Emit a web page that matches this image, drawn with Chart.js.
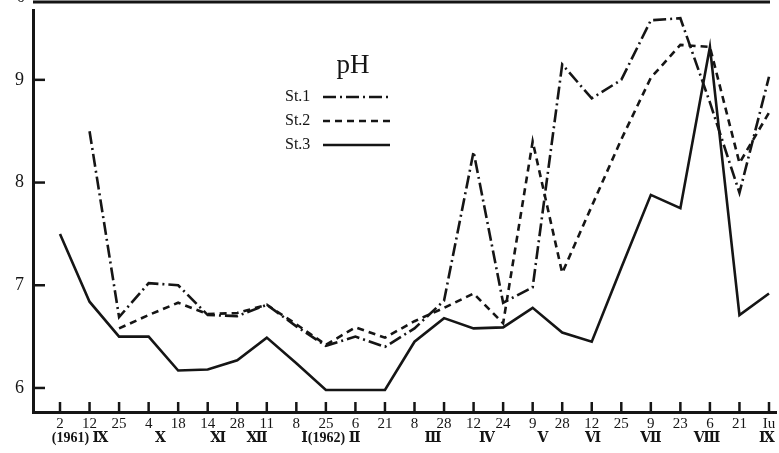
<!DOCTYPE html>
<html>
<head>
<meta charset="utf-8">
<script src="https://cdn.jsdelivr.net/npm/chart.js@4.4.1/dist/chart.umd.min.js"></script>
<style>
  html, body { margin: 0; padding: 0; background: #fff; }
  #wrap { width: 779px; height: 453px; position: relative; }
</style>
</head>
<body>
<div id="wrap"><canvas id="phChart"></canvas></div>
<script>
// sampling days (x axis, first line)
var days = ["2", "12", "25", "4", "18", "14", "28", "11", "8", "25", "6", "21", "8", "28", "12", "24", "9", "28", "12", "25", "9", "23", "6", "21", "Iu"];
// month labels (second line) and where they sit, in day-index units
var months = ["(1961) Ⅸ", "Ⅹ", "Ⅺ", "Ⅻ", "Ⅰ(1962) Ⅱ", "Ⅲ", "Ⅳ", "Ⅴ", "Ⅵ", "Ⅶ", "Ⅷ", "Ⅸ"];
var monthPos = [0.68, 3.4, 5.35, 6.67, 9.17, 12.63, 14.45, 16.35, 18.04, 20.0, 21.9, 23.93];

var st1 = [null, 8.50, 6.69, 7.02, 7.00, 6.71, 6.70, 6.81, 6.60, 6.41, 6.50, 6.40, 6.58, 6.85, 8.30, 6.83, 6.98, 9.15, 8.82, 9.00, 9.58, 9.60, 8.78, 7.90, 9.03];
var st2 = [null, null, 6.58, 6.71, 6.83, 6.72, 6.73, 6.81, 6.62, 6.42, 6.59, 6.49, 6.65, 6.78, 6.92, 6.63, 8.40, 7.12, 7.77, 8.42, 9.02, 9.34, 9.32, 8.19, 8.68];
var st3 = [7.50, 6.84, 6.50, 6.50, 6.17, 6.18, 6.27, 6.49, 6.24, 5.98, 5.98, 5.98, 6.45, 6.68, 6.58, 6.59, 6.78, 6.54, 6.45, 7.17, 7.88, 7.75, 9.32, 6.71, 6.92];

var yTicks = [6, 7, 8, 9];
var seriesNames = ["St.1", "St.2", "St.3"];
var dashes = [[13, 4, 2, 4], [7, 5], []];

var ink = "#151515";
var serif = "'Liberation Serif', 'DejaVu Serif', 'Noto Sans CJK SC', serif";

function toPoints(arr) {
    return arr.map(function (v, i) { return { x: i, y: v }; });
}

// ticks inside the frame, month row, legend and title
var extras = {
    id: "extras",
    afterDraw: function (chart) {
        var ctx = chart.ctx;
        var xs = chart.scales.x, ys = chart.scales.y;
        var area = chart.chartArea;
        ctx.save();
        ctx.strokeStyle = ink;
        ctx.fillStyle = ink;

        // top frame line
        ctx.lineWidth = 3;
        ctx.beginPath();
        ctx.moveTo(area.left, 2);
        ctx.lineTo(770, 2);
        ctx.stroke();

        ctx.lineWidth = 2.5;
        yTicks.forEach(function (v) {
            var y = ys.getPixelForValue(v);
            ctx.beginPath();
            ctx.moveTo(area.left, y);
            ctx.lineTo(area.left + 12, y);
            ctx.stroke();
        });
        days.forEach(function (d, i) {
            var x = xs.getPixelForValue(i);
            ctx.beginPath();
            ctx.moveTo(x, area.bottom);
            ctx.lineTo(x, area.bottom - 10);
            ctx.stroke();
        });

        // cut-off top label
        ctx.font = "18px " + serif;
        ctx.textAlign = "center";
        ctx.textBaseline = "middle";
        ctx.fillText("0", 21, -3);

        // month row
        ctx.font = "bold 14px " + serif;
        months.forEach(function (m, i) {
            ctx.fillText(m, xs.getPixelForValue(monthPos[i]), 438);
        });

        // title
        ctx.font = "27px " + serif;
        ctx.fillText("pH", 353, 66);

        // legend
        ctx.font = "16px " + serif;
        ctx.textAlign = "left";
        seriesNames.forEach(function (name, i) {
            var y = 97 + i * 24;
            ctx.fillText(name, 285, y);
            ctx.setLineDash(dashes[i]);
            ctx.lineWidth = 2.5;
            ctx.beginPath();
            ctx.moveTo(323, y);
            ctx.lineTo(390, y);
            ctx.stroke();
        });
        ctx.setLineDash([]);
        ctx.restore();
    }
};

var ctx = document.getElementById("phChart").getContext("2d");
new Chart(ctx, {
    type: "line",
    data: {
        datasets: [
            { label: "St.1", data: toPoints(st1), borderDash: dashes[0] },
            { label: "St.2", data: toPoints(st2), borderDash: dashes[1] },
            { label: "St.3", data: toPoints(st3), borderDash: dashes[2] }
        ]
    },
    options: {
        responsive: true,
        maintainAspectRatio: false,
        animation: false,
        layout: { padding: { top: 10, right: 3, left: 0, bottom: 0 } },
        elements: {
            line: { borderColor: ink, borderWidth: 2.6, tension: 0, fill: false },
            point: { radius: 0, hoverRadius: 0 }
        },
        plugins: {
            legend: { display: false },
            tooltip: { enabled: false }
        },
        scales: {
            x: {
                type: "linear",
                min: -0.914,
                max: 24.237,
                grid: { display: false, drawTicks: false },
                border: { display: true, color: ink, width: 3 },
                afterBuildTicks: function (scale) {
                    scale.ticks = days.map(function (d, i) { return { value: i }; });
                },
                afterFit: function (scale) {
                    scale.height = 41;
                    scale.paddingLeft = 0;
                    scale.paddingRight = 0;
                },
                ticks: {
                    autoSkip: false,
                    maxRotation: 0,
                    padding: 3,
                    color: ink,
                    font: { family: serif, size: 15 },
                    callback: function (v) { return days[v]; }
                }
            },
            y: {
                min: 5.766,
                max: 9.68,
                grid: { display: false, drawTicks: false },
                border: { display: true, color: ink, width: 3 },
                afterBuildTicks: function (scale) {
                    scale.ticks = yTicks.map(function (v) { return { value: v }; });
                },
                afterFit: function (scale) {
                    scale.width = 33;
                    scale.paddingTop = 0;
                    scale.paddingBottom = 0;
                },
                ticks: {
                    padding: 9,
                    color: ink,
                    font: { family: serif, size: 18 }
                }
            }
        }
    },
    plugins: [extras]
});
</script>
</body>
</html>
